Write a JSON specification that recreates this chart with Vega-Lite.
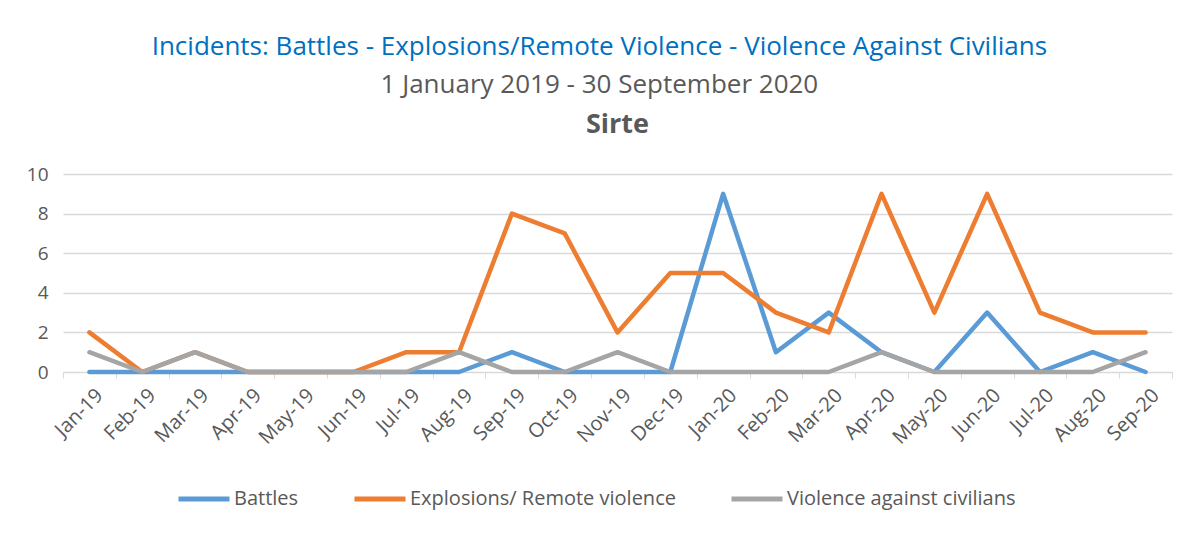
{
  "$schema": "https://vega.github.io/schema/vega-lite/v6.json",
  "background": "white",
  "padding": {"left": 26, "top": 34, "right": 18, "bottom": 5},
  "title": {
    "text": "Incidents: Battles - Explosions/Remote Violence - Violence Against Civilians",
    "subtitle": "1 January 2019 -  30 September 2020",
    "color": "#0070C0",
    "fontSize": 26,
    "font": "Open Sans",
    "fontWeight": "normal",
    "subtitleColor": "#595959",
    "subtitleFont": "Open Sans",
    "subtitleFontSize": 26,
    "subtitlePadding": 12,
    "anchor": "middle",
    "offset": 13
  },
  "vconcat": [
    {
      "title": {"text": "Sirte", "font": "Open Sans", "fontSize": 27, "fontWeight": "bold", "color": "#595959", "anchor": "middle", "offset": 26},
      "width": 1109,
      "height": 198,
      "data": {
        "values": [
          {"month": "Jan-19", "series": "Battles", "value": 0},
          {"month": "Feb-19", "series": "Battles", "value": 0},
          {"month": "Mar-19", "series": "Battles", "value": 0},
          {"month": "Apr-19", "series": "Battles", "value": 0},
          {"month": "May-19", "series": "Battles", "value": 0},
          {"month": "Jun-19", "series": "Battles", "value": 0},
          {"month": "Jul-19", "series": "Battles", "value": 0},
          {"month": "Aug-19", "series": "Battles", "value": 0},
          {"month": "Sep-19", "series": "Battles", "value": 1},
          {"month": "Oct-19", "series": "Battles", "value": 0},
          {"month": "Nov-19", "series": "Battles", "value": 0},
          {"month": "Dec-19", "series": "Battles", "value": 0},
          {"month": "Jan-20", "series": "Battles", "value": 9},
          {"month": "Feb-20", "series": "Battles", "value": 1},
          {"month": "Mar-20", "series": "Battles", "value": 3},
          {"month": "Apr-20", "series": "Battles", "value": 1},
          {"month": "May-20", "series": "Battles", "value": 0},
          {"month": "Jun-20", "series": "Battles", "value": 3},
          {"month": "Jul-20", "series": "Battles", "value": 0},
          {"month": "Aug-20", "series": "Battles", "value": 1},
          {"month": "Sep-20", "series": "Battles", "value": 0},
          {"month": "Jan-19", "series": "Explosions/ Remote violence", "value": 2},
          {"month": "Feb-19", "series": "Explosions/ Remote violence", "value": 0},
          {"month": "Mar-19", "series": "Explosions/ Remote violence", "value": 1},
          {"month": "Apr-19", "series": "Explosions/ Remote violence", "value": 0},
          {"month": "May-19", "series": "Explosions/ Remote violence", "value": 0},
          {"month": "Jun-19", "series": "Explosions/ Remote violence", "value": 0},
          {"month": "Jul-19", "series": "Explosions/ Remote violence", "value": 1},
          {"month": "Aug-19", "series": "Explosions/ Remote violence", "value": 1},
          {"month": "Sep-19", "series": "Explosions/ Remote violence", "value": 8},
          {"month": "Oct-19", "series": "Explosions/ Remote violence", "value": 7},
          {"month": "Nov-19", "series": "Explosions/ Remote violence", "value": 2},
          {"month": "Dec-19", "series": "Explosions/ Remote violence", "value": 5},
          {"month": "Jan-20", "series": "Explosions/ Remote violence", "value": 5},
          {"month": "Feb-20", "series": "Explosions/ Remote violence", "value": 3},
          {"month": "Mar-20", "series": "Explosions/ Remote violence", "value": 2},
          {"month": "Apr-20", "series": "Explosions/ Remote violence", "value": 9},
          {"month": "May-20", "series": "Explosions/ Remote violence", "value": 3},
          {"month": "Jun-20", "series": "Explosions/ Remote violence", "value": 9},
          {"month": "Jul-20", "series": "Explosions/ Remote violence", "value": 3},
          {"month": "Aug-20", "series": "Explosions/ Remote violence", "value": 2},
          {"month": "Sep-20", "series": "Explosions/ Remote violence", "value": 2},
          {"month": "Jan-19", "series": "Violence against civilians", "value": 1},
          {"month": "Feb-19", "series": "Violence against civilians", "value": 0},
          {"month": "Mar-19", "series": "Violence against civilians", "value": 1},
          {"month": "Apr-19", "series": "Violence against civilians", "value": 0},
          {"month": "May-19", "series": "Violence against civilians", "value": 0},
          {"month": "Jun-19", "series": "Violence against civilians", "value": 0},
          {"month": "Jul-19", "series": "Violence against civilians", "value": 0},
          {"month": "Aug-19", "series": "Violence against civilians", "value": 1},
          {"month": "Sep-19", "series": "Violence against civilians", "value": 0},
          {"month": "Oct-19", "series": "Violence against civilians", "value": 0},
          {"month": "Nov-19", "series": "Violence against civilians", "value": 1},
          {"month": "Dec-19", "series": "Violence against civilians", "value": 0},
          {"month": "Jan-20", "series": "Violence against civilians", "value": 0},
          {"month": "Feb-20", "series": "Violence against civilians", "value": 0},
          {"month": "Mar-20", "series": "Violence against civilians", "value": 0},
          {"month": "Apr-20", "series": "Violence against civilians", "value": 1},
          {"month": "May-20", "series": "Violence against civilians", "value": 0},
          {"month": "Jun-20", "series": "Violence against civilians", "value": 0},
          {"month": "Jul-20", "series": "Violence against civilians", "value": 0},
          {"month": "Aug-20", "series": "Violence against civilians", "value": 0},
          {"month": "Sep-20", "series": "Violence against civilians", "value": 1}
        ]
      },
      "mark": {"type": "line", "strokeWidth": 4.5, "strokeJoin": "round", "strokeCap": "round"},
      "encoding": {
        "x": {
          "field": "month",
          "type": "nominal",
          "sort": null,
          "scale": {"paddingInner": 0, "paddingOuter": 0},
          "axis": {
            "title": null,
            "labelAngle": -45,
            "labelAlign": "right",
            "labelBaseline": "middle",
            "labelPadding": 14,
            "labelOffset": 10,
            "labelFontSize": 20,
            "tickBand": "extent",
            "tickColor": "#D9D9D9",
            "tickSize": 6,
            "domainColor": "#D9D9D9",
            "grid": false
          }
        },
        "y": {
          "field": "value",
          "type": "quantitative",
          "scale": {"domain": [0, 10]},
          "axis": {
            "title": null,
            "values": [0, 2, 4, 6, 8, 10],
            "domain": false,
            "ticks": false,
            "labelPadding": 15,
            "labelFontSize": 19,
            "gridColor": "#D9D9D9",
            "gridWidth": 1.5
          }
        },
        "color": {
          "field": "series",
          "type": "nominal",
          "scale": {
            "domain": ["Battles", "Explosions/ Remote violence", "Violence against civilians"],
            "range": ["#5B9BD5", "#ED7D31", "#A5A5A5"]
          },
          "legend": {
            "title": null,
            "orient": "none",
            "legendX": 113,
            "legendY": 297,
            "direction": "horizontal",
            "symbolType": "stroke",
            "symbolSize": 2600,
            "symbolStrokeWidth": 5,
            "labelFontSize": 20,
            "labelColor": "#595959",
            "labelFont": "Open Sans",
            "labelLimit": 400,
            "labelOffset": 2,
            "columnPadding": 45
          }
        },
        "order": {"field": "series"}
      }
    }
  ],
  "config": {
    "view": {"stroke": null},
    "axis": {"labelFont": "Open Sans", "labelColor": "#595959"}
  }
}
